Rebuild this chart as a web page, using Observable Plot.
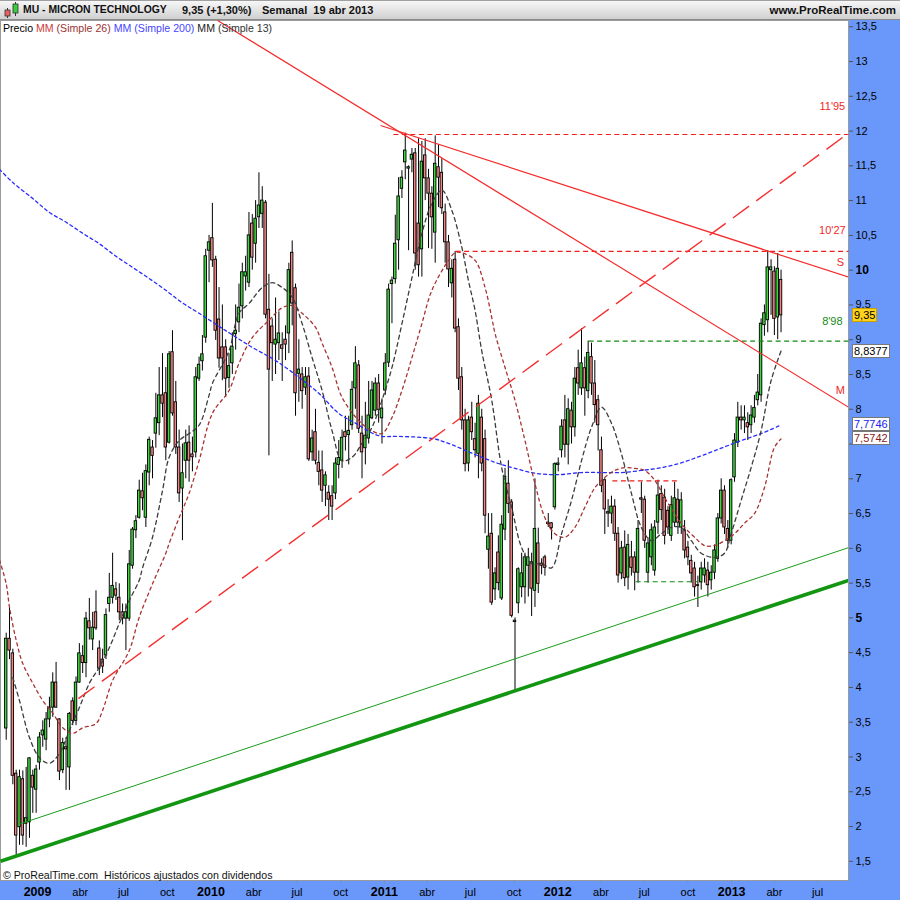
<!DOCTYPE html>
<html><head><meta charset="utf-8">
<script src="https://cdn.jsdelivr.net/npm/d3@7"></script>
<script src="https://cdn.jsdelivr.net/npm/@observablehq/plot@0.6"></script>
<style>
html,body{margin:0;padding:0;background:#fff;}
#wrap{position:relative;width:900px;height:900px;background:#6a98fa;overflow:hidden;font-family:"Liberation Sans",Arial,sans-serif;}
#hdr{position:absolute;left:0;top:0;width:900px;height:20px;box-sizing:border-box;background:linear-gradient(#f7f7f7,#d0d0d0);border-top:1px solid #a0a0a0;border-bottom:1px solid #8c8c8c;font-weight:bold;font-size:11px;color:#111;}
#hdr span{position:absolute;top:3px;white-space:nowrap;}
#chart{position:absolute;left:0;top:20px;}
.ov{position:absolute;white-space:nowrap;font-size:10.6px;line-height:13px;}
.box{position:absolute;height:14px;line-height:12px;font-size:11px;padding:0 1px;box-sizing:border-box;border:1px solid #777;background:#fff;white-space:nowrap;}
</style></head><body>
<div id="wrap">
 <div id="hdr">
  <svg width="20" height="18" style="position:absolute;left:2px;top:0px">
   <line x1="5.5" y1="7" x2="5.5" y2="17" stroke="#333"/>
   <rect x="3" y="9" width="5" height="6" fill="#e86060" stroke="#333" stroke-width="0.8"/>
   <line x1="13.5" y1="1" x2="13.5" y2="15" stroke="#333"/>
   <rect x="11" y="3" width="5" height="9" fill="#3ccc3c" stroke="#333" stroke-width="0.8"/>
  </svg>
  <span style="left:23px;font-size:10.4px">MU - MICRON TECHNOLOGY</span>
  <span style="left:182px">9,35 (+1,30%)</span>
  <span style="left:262px">Semanal&nbsp; 19 abr 2013</span>
  <span style="right:4px;font-size:11.5px">www.ProRealTime.com</span>
 </div>
 <div id="chart"></div>
 <div class="ov" style="left:3px;top:22px"><span style="color:#000">Precio</span> <span style="color:#d03a3a">MM</span> <span style="color:#993333">(Simple 26)</span> <span style="color:#4646ff">MM (Simple 200)</span> <span style="color:#222">MM</span> <span style="color:#333">(Simple 13)</span></div>
 <div class="ov" style="left:3px;top:869px;color:#111">© ProRealTime.com&nbsp; Históricos ajustados con dividendos</div>
</div>
<script>
// ---------- DATA (weekly candles from week of 27 Oct 2008 to week of 15 Apr 2013) ----------
const firstWeek = "2008-10-27";
const open = [
3.41,4.70,4.49,2.76,1.99,2.68,2.04,2.06,2.73,2.53,
2.92,3.31,3.25,3.54,3.71,4.07,3.54,2.81,3.14,2.85,
3.80,3.52,4.07,4.45,4.35,4.95,4.69,5.08,4.56,4.40,
4.46,5.20,5.29,5.41,5.29,5.08,4.99,4.99,5.75,6.26,
6.44,6.82,6.44,7.09,7.45,7.65,7.80,8.20,8.23,7.52,
8.82,8.10,7.45,6.86,7.26,7.52,7.35,7.38,8.44,8.69,
9.03,10.28,10.46,10.15,9.29,8.89,8.89,8.45,8.66,9.08,
9.25,9.48,9.91,9.82,10.67,10.38,10.76,10.81,10.97,9.43,
9.19,8.93,8.95,8.92,9.00,9.09,10.25,9.74,8.51,8.50,
8.31,8.47,7.38,7.67,7.23,7.12,6.90,6.80,6.75,6.79,
7.20,7.26,7.67,7.63,7.77,8.30,8.63,7.65,7.44,7.58,
7.87,7.98,8.37,7.87,8.27,8.67,9.80,9.87,10.43,11.17,
11.55,11.46,11.59,11.68,10.67,10.30,11.65,11.32,11.10,10.54,
11.48,11.40,10.83,10.40,9.81,10.15,9.18,8.46,7.84,7.22,
7.88,7.57,7.36,7.88,7.57,5.98,6.21,5.41,5.94,5.28,
6.27,6.93,6.66,4.96,5.21,5.44,5.44,5.75,5.80,5.39,
6.07,5.78,5.87,6.37,6.36,6.59,7.20,7.41,7.84,7.49,
7.98,7.74,8.59,8.30,8.59,8.26,8.75,8.37,8.13,7.41,
6.98,6.52,6.50,6.60,6.21,5.64,6.01,5.58,5.87,5.87,
5.65,6.72,6.70,5.65,5.87,5.68,6.37,6.78,6.73,6.54,
6.18,6.37,6.70,6.30,6.26,6.01,5.82,5.71,5.47,5.51,
5.61,5.68,5.54,5.65,5.85,6.43,6.83,6.28,6.11,7.02,
7.52,7.88,7.84,7.80,7.77,7.88,8.13,8.20,9.21,9.28,
10.00,9.98,9.32,9.86];
const high = [
4.78,5.15,4.55,2.81,2.81,2.80,2.85,2.99,2.81,2.88,
3.35,3.52,3.64,3.86,4.21,4.36,3.55,3.27,3.28,3.64,
3.85,4.15,4.63,4.60,5.08,5.28,5.08,5.39,4.67,4.55,
5.13,5.64,5.93,5.51,5.49,5.20,5.20,5.97,6.30,6.47,
6.98,7.08,7.20,7.60,7.55,8.23,8.60,8.80,8.60,8.83,
9.13,8.40,7.70,7.50,7.70,7.76,7.60,8.60,8.75,9.06,
10.30,10.50,10.96,10.20,9.75,9.50,9.00,8.80,9.10,9.50,
9.80,10.10,10.20,10.83,10.80,11.00,11.40,11.20,11.00,9.94,
9.30,9.60,9.40,9.10,9.20,10.10,10.42,9.80,9.00,8.60,
8.60,8.60,7.70,8.00,7.40,7.40,7.10,6.90,6.90,7.30,
7.55,7.70,7.90,7.90,8.40,8.90,8.70,7.90,8.10,8.40,
8.40,8.45,8.50,8.15,8.80,9.80,9.90,10.79,11.33,11.43,
11.97,11.50,11.75,11.75,11.89,11.85,11.89,11.45,11.20,11.93,
11.80,11.60,10.95,10.50,10.15,10.27,9.30,8.60,8.00,7.90,
8.10,7.80,8.20,8.00,7.70,6.50,6.50,5.72,6.18,6.47,
7.15,7.26,6.70,5.00,5.72,5.93,5.93,6.00,5.93,7.00,
6.29,5.85,5.90,6.50,6.37,7.23,7.30,7.85,8.20,8.15,
8.10,8.60,8.85,9.16,8.75,8.98,8.95,8.70,8.20,7.60,
7.00,6.70,6.75,6.70,6.30,6.10,6.25,6.20,6.10,5.95,
6.40,6.95,6.75,6.15,6.35,6.40,6.98,6.90,6.85,6.60,
6.75,6.95,6.85,6.80,6.40,6.10,5.90,5.80,5.60,5.80,
5.85,5.80,5.75,6.05,6.50,7.00,6.90,6.40,7.00,7.65,
8.10,8.05,8.05,7.95,8.05,8.20,8.50,9.30,9.50,10.28,
10.15,10.05,10.24,10.00];
const low = [
3.24,4.40,2.60,1.58,1.73,1.73,1.70,1.83,2.19,2.19,
2.81,3.14,3.09,3.42,3.57,3.70,2.66,2.76,2.52,2.52,
3.45,3.45,4.06,4.20,4.14,4.68,4.53,4.82,4.17,4.20,
4.40,5.08,5.20,5.25,4.96,4.90,4.53,4.95,5.70,6.14,
6.42,6.54,6.30,6.90,7.00,7.44,7.62,7.88,7.26,7.50,
7.90,7.35,6.66,6.11,7.00,6.95,7.10,7.30,8.40,8.55,
8.95,9.82,10.04,8.99,8.59,8.41,8.17,8.30,8.50,8.85,
9.10,9.30,9.70,9.75,10.00,10.10,10.60,10.60,9.30,7.33,
8.40,8.50,8.70,8.40,8.70,8.80,9.20,7.90,8.10,8.00,
8.20,7.25,7.25,7.20,6.90,6.66,6.60,6.40,6.40,6.70,
7.00,7.15,7.40,7.20,7.70,8.00,7.65,7.00,7.20,7.50,
7.85,7.90,7.80,7.50,8.20,8.60,9.23,9.80,10.00,11.03,
11.30,10.28,11.40,10.00,9.90,9.90,11.00,10.31,10.30,10.10,
10.90,10.80,10.10,9.75,9.60,9.10,8.27,7.70,7.10,7.10,
7.55,7.30,7.00,7.10,6.21,5.70,5.18,5.25,5.39,5.25,
6.11,6.50,5.00,3.96,5.06,5.29,5.20,5.30,5.02,5.15,
5.35,5.62,5.60,6.30,6.12,6.55,7.10,7.30,7.30,7.20,
7.50,7.60,8.20,8.20,7.90,8.15,8.20,7.80,7.40,6.80,
6.20,6.30,6.35,6.10,5.50,5.55,5.45,5.40,5.60,5.39,
5.50,6.50,6.00,5.50,5.75,5.60,6.20,6.40,6.05,6.20,
6.10,6.30,6.20,6.20,5.85,5.75,5.50,5.30,5.15,5.40,
5.50,5.30,5.40,5.55,5.80,6.35,6.20,6.00,6.05,6.95,
7.45,7.70,7.65,7.55,7.65,7.80,8.05,8.10,9.05,9.10,
9.35,9.06,9.00,9.10];
const close = [
4.70,4.53,2.73,1.87,2.71,1.87,2.12,2.98,2.56,2.82,
3.28,3.38,3.54,3.71,4.07,3.71,2.79,3.20,3.11,3.62,
3.52,4.07,4.49,4.35,4.99,4.85,4.86,4.85,4.27,4.30,
5.04,5.29,5.46,5.32,5.08,4.99,5.08,5.77,6.27,6.39,
6.83,6.72,7.11,7.56,7.33,7.87,8.20,8.08,7.45,8.79,
7.94,7.45,6.79,7.08,7.51,7.26,7.31,8.46,8.64,8.79,
10.20,10.40,10.14,9.13,8.73,8.73,8.44,8.62,8.90,9.13,
9.46,9.97,9.97,10.50,10.18,10.74,10.93,11.00,9.36,8.57,
8.95,9.00,9.09,8.87,8.93,10.00,9.52,8.23,8.57,8.26,
8.46,7.28,7.58,7.26,7.10,6.83,7.05,6.70,6.60,7.22,
7.30,7.59,7.60,7.69,8.28,8.66,7.72,7.38,7.62,7.91,
8.27,8.37,7.99,8.01,8.66,9.72,9.85,10.38,11.06,11.33,
11.72,11.48,11.66,10.24,10.07,11.56,11.32,11.10,10.76,11.53,
11.33,10.89,10.40,10.01,10.02,9.16,8.44,7.84,7.21,7.84,
7.67,7.41,8.08,7.22,6.47,6.17,5.22,5.64,5.50,6.34,
7.03,6.64,5.03,4.94,5.70,5.64,5.87,5.87,5.42,6.28,
5.49,5.75,5.72,6.35,6.29,7.21,7.22,7.75,7.49,8.00,
7.74,8.44,8.37,8.66,8.30,8.81,8.37,8.06,7.77,6.90,
6.56,6.50,6.60,6.21,5.61,6.00,5.57,6.05,5.72,5.65,
6.28,6.70,6.11,6.07,6.26,6.30,6.76,6.55,6.18,6.30,
6.62,6.72,6.37,6.69,5.97,5.87,5.64,5.44,5.46,5.71,
5.71,5.47,5.65,5.97,6.43,6.83,6.30,6.11,6.98,7.55,
7.88,7.84,7.88,7.74,7.91,8.02,8.24,9.23,9.38,10.04,
10.04,9.30,10.02,9.35];

// Moving averages (week index, value)
const sma13Week = [2,4,7,10,13,16,19,22,25,28,31,34,37,40,41,44,47,49,52,55,58,61,62,67,70,73,77,80,83,86,89,92,95,98,101,104,107,110,113,116,119,122,125,128,131,134,137,139,141,143,146,149,152,155,158,161,164,167,170,173,176,179,182,185,188,191,194,197,200,203,206,209,213,216,218,221,224,227,230,233];
const sma13Val = [4.14,3.81,3.28,2.99,2.91,3.05,3.38,3.71,4.06,4.29,4.57,4.92,5.25,5.54,5.72,6.16,6.83,7.31,7.55,7.65,7.77,8.20,8.37,8.84,9.38,9.52,9.75,9.82,9.75,9.61,9.23,8.74,8.27,7.69,7.26,7.31,7.51,7.74,8.13,8.60,9.23,9.89,10.53,10.96,11.15,10.86,10.33,9.85,9.42,8.84,8.13,7.16,6.59,6.01,5.78,5.78,5.72,6.21,6.69,7.26,7.74,8.03,7.80,7.36,6.79,6.30,6.11,6.21,6.30,6.30,6.11,5.93,5.87,5.93,6.21,6.69,7.16,7.69,8.41,8.8377];
const sma26Week = [-2,0,1,3,5,8,11,14,17,20,23,27,29,32,37,40,44,48,49,52,55,58,62,67,70,74,79,83,86,89,93,95,98,101,106,110,113,116,119,122,125,128,133,135,137,141,144,146,147,150,153,156,159,162,165,168,171,174,177,180,183,186,189,192,195,198,201,204,207,210,213,216,219,222,225,228,231,233];
const sma26Val = [5.83,5.49,5.15,4.68,4.34,4.06,3.81,3.63,3.42,3.34,3.42,3.48,3.67,4.10,4.53,5.01,5.49,5.93,6.07,6.44,6.79,7.26,7.94,8.27,8.66,9.03,9.28,9.46,9.49,9.38,9.18,8.95,8.60,8.17,7.84,7.69,7.65,7.88,8.27,8.74,9.23,9.71,10.14,10.25,10.25,10.14,9.75,9.32,9.09,8.60,8.13,7.55,6.93,6.44,6.21,6.16,6.30,6.59,6.87,7.02,7.12,7.16,7.15,7.12,6.98,6.73,6.50,6.30,6.16,6.04,6.04,6.11,6.21,6.36,6.50,6.87,7.45,7.5742];
const sma200Week = [-2,2,8,13,18,23,28,33,38,43,48,53,58,67,74,81,88,94,100,105,112,118,128,133,138,143,148,153,159,166,173,179,185,191,197,203,209,215,221,227,233];
const sma200Val = [11.45,11.26,11.03,10.83,10.69,10.53,10.38,10.20,10.04,9.88,9.71,9.53,9.38,9.10,8.89,8.70,8.46,8.23,7.94,7.80,7.62,7.61,7.58,7.51,7.41,7.31,7.22,7.15,7.08,7.06,7.09,7.09,7.09,7.12,7.16,7.23,7.33,7.44,7.55,7.65,7.7746];

// Drawn trend lines and levels (date, price)
const lineS = {from: "2010-12-24", p0: 12.08, to: "2013-09-04", p1: 9.90};
const lineM = {from: "2010-01-15", p0: 13.59, to: "2013-09-04", p1: 8.03};
const lineUp = {from: "2009-03-28", p0: 3.84, to: "2013-08-23", p1: 11.91};
const supportThin = {from: "2008-11-26", p0: 2.04, to: "2013-09-04", p1: 6.01};
const supportThick = {from: "2008-10-15", p0: 1.50, to: "2013-09-04", p1: 5.54};
const redLevels = [11.95, 10.27, 6.97];
const redLevelFrom = ["2011-01-20", "2011-05-31", "2012-04-25"];
const redLevelTo = ["2013-09-04", "2013-09-04", "2012-09-11"];
const greenLevels = [8.98, 5.52];
const greenLevelFrom = ["2012-03-06", "2012-06-13"];
const greenLevelTo = ["2013-09-04", "2012-10-21"];
const redNotes = ["11'95", "10'27", "S", "M"];
const redNoteP = [12.35, 10.57, 10.11, 8.27];
const redNoteDate = ["2013-08-01", "2013-08-01", "2013-08-18", "2013-08-18"];
const greenNotes = ["8'98"];
const greenNoteP = [9.26];
const greenNoteDate = ["2013-08-01"];

const yTicks = [1.5,2,2.5,3,3.5,4,4.5,5.5,6,6.5,7,7.5,8,8.5,9,9.5,10.5,11,11.5,12,12.5,13,13.5];
const yTicksHiddenLabel = [7.5];
const yTicksBold = [5,10];
const yearTicks = ["2009-01-01","2010-01-01","2011-01-01","2012-01-01","2013-01-01"];
const monthTicks = ["2009-04-01","2009-07-01","2009-10-01","2010-04-01","2010-07-01","2010-10-01","2011-04-01","2011-07-01","2011-10-01","2012-04-01","2012-07-01","2012-10-01","2013-04-01","2013-07-01"];
const monthNames = ["ene","feb","mar","abr","may","jun","jul","ago","sep","oct","nov","dic"];

// ---------- BUILD ----------
const DAY = 864e5;
const dt = s => new Date(s + "T00:00:00Z");
const t0 = +dt(firstWeek);
const wk = i => new Date(t0 + i * 7 * DAY);
const candles = close.map((c, i) => ({date: wk(i), open: open[i], high: high[i], low: low[i], close: c}));
const half = 2.6 * DAY;
const ma = (w, v) => w.map((k, j) => ({date: wk(k), v: v[j]}));
const seg = o => ({x1: dt(o.from), y1: o.p0, x2: dt(o.to), y2: o.p1});
const fmt = v => yTicksHiddenLabel.includes(v) ? "" : String(v).replace(".", ",");

const chart = Plot.plot({
  width: 900, height: 880,
  marginLeft: 0, marginRight: 52, marginTop: 0, marginBottom: 20,
  x: {type: "utc", domain: [dt("2008-10-15"), dt("2013-09-04")]},
  y: {type: "linear", domain: [1.224, 13.59]},
  style: {background: "transparent", fontFamily: '"Liberation Sans", Arial, sans-serif', fontSize: "11px", color: "#000", overflow: "visible"},
  marks: [
    Plot.frame({fill: "#fff", stroke: "#9a9a9a"}),
    // candles
    Plot.ruleX(candles, {x: "date", y1: "low", y2: "high", stroke: "#000", strokeWidth: 1}),
    Plot.rect(candles, {
      x1: d => new Date(+d.date - half), x2: d => new Date(+d.date + half),
      y1: "open", y2: "close",
      fill: d => d.close >= d.open ? "#3ed83e" : "#f28484",
      stroke: "#000", strokeWidth: 0.9
    }),
    // moving averages
    Plot.line(ma(sma200Week, sma200Val), {x: "date", y: "v", stroke: "#2b2bff", strokeWidth: 1.3, strokeDasharray: "3,3", curve: "catmull-rom", clip: true}),
    Plot.line(ma(sma26Week, sma26Val), {x: "date", y: "v", stroke: "#a83232", strokeWidth: 1.3, strokeDasharray: "3,3.5", curve: "catmull-rom", clip: true}),
    Plot.line(ma(sma13Week, sma13Val), {x: "date", y: "v", stroke: "#3c3c3c", strokeWidth: 1.3, strokeDasharray: "4,3.5", curve: "catmull-rom", clip: true}),
    // levels
    Plot.link(redLevels.map((p, i) => ({x1: dt(redLevelFrom[i]), x2: dt(redLevelTo[i]), y: p})), {x1: "x1", x2: "x2", y1: "y", y2: "y", stroke: "#f01e1e", strokeWidth: 1.1, strokeDasharray: "5,3.5"}),
    Plot.link(greenLevels.map((p, i) => ({x1: dt(greenLevelFrom[i]), x2: dt(greenLevelTo[i]), y: p})), {x1: "x1", x2: "x2", y1: "y", y2: "y", stroke: "#118811", strokeWidth: 1.1, strokeDasharray: "5,3.5"}),
    // trend lines
    Plot.link([seg(lineS), seg(lineM)], {x1: "x1", y1: "y1", x2: "x2", y2: "y2", stroke: "#f52a2a", strokeWidth: 1.2, clip: true}),
    Plot.link([seg(lineUp)], {x1: "x1", y1: "y1", x2: "x2", y2: "y2", stroke: "#f53030", strokeWidth: 1.4, strokeDasharray: "20,9", clip: true}),
    Plot.link([seg(supportThin)], {x1: "x1", y1: "y1", x2: "x2", y2: "y2", stroke: "#1a9a1a", strokeWidth: 1, clip: true}),
    Plot.link([seg(supportThick)], {x1: "x1", y1: "y1", x2: "x2", y2: "y2", stroke: "#129612", strokeWidth: 3.6, clip: true}),
    // notes
    Plot.text(redNotes.map((t, i) => ({t, p: redNoteP[i], date: dt(redNoteDate[i])})), {x: "date", y: "p", text: "t", fill: "#f02828", fontSize: 11}),
    Plot.text(greenNotes.map((t, i) => ({t, p: greenNoteP[i], date: dt(greenNoteDate[i])})), {x: "date", y: "p", text: "t", fill: "#158a15", fontSize: 11}),
    // axes
    Plot.axisY({ticks: yTicks, anchor: "right", tickSize: 4, tickPadding: 3, tickFormat: fmt, fontSize: 11, stroke: "#555"}),
    Plot.axisY({ticks: yTicksBold, anchor: "right", tickSize: 4, tickPadding: 3, tickFormat: fmt, fontSize: 12, fontWeight: "bold", stroke: "#555"}),
    Plot.axisX({ticks: monthTicks.map(dt), anchor: "bottom", tickSize: 4, tickPadding: 4, tickFormat: d => monthNames[d.getUTCMonth()], fontSize: 11, stroke: "#7b8fc0"}),
    Plot.axisX({ticks: yearTicks.map(dt), anchor: "bottom", tickSize: 4, tickPadding: 3, tickFormat: d => String(d.getUTCFullYear()), fontSize: 12.5, fontWeight: "bold", stroke: "#7b8fc0"})
  ]
});
document.getElementById("chart").append(chart);

// last-value boxes placed with the chart's y scale
const ys = chart.scale("y");
const wrap = document.getElementById("wrap");
const lastBoxes = [
  {v: close[close.length - 1], t: "9,35", color: "#000", bg: "#ffd21e", border: "#c8a000"},
  {v: sma13Val[sma13Val.length - 1], t: "8,8377", color: "#000", bg: "#fff", border: "#777"},
  {v: sma200Val[sma200Val.length - 1], t: "7,7746", color: "#2222ee", bg: "#fff", border: "#777"},
  {v: sma26Val[sma26Val.length - 1], t: "7,5742", color: "#8b1a1a", bg: "#fff", border: "#777"}
];
for (const b of lastBoxes) {
  const el = document.createElement("div");
  el.className = "box";
  el.textContent = b.t;
  el.style.left = "852px";
  el.style.top = (20 + ys.apply(b.v) - 7) + "px";
  el.style.color = b.color;
  el.style.background = b.bg;
  el.style.borderColor = b.border;
  wrap.append(el);
}
</script>
</body></html>
